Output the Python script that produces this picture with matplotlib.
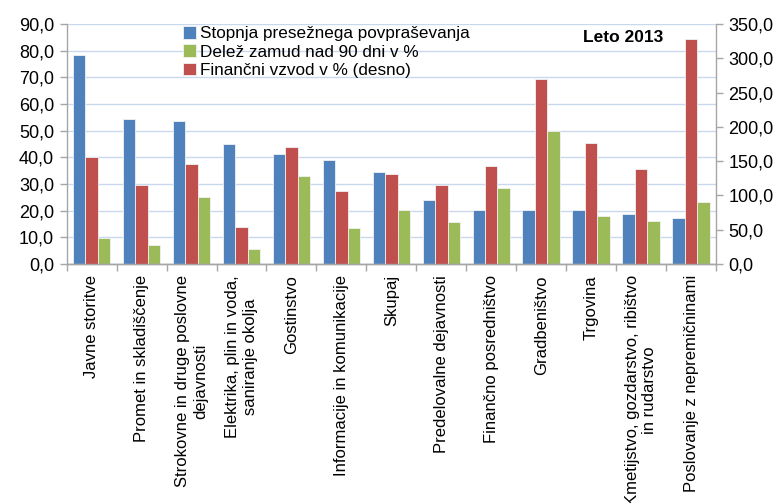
import matplotlib
matplotlib.use("Agg")
import matplotlib.pyplot as plt
import numpy as np
from matplotlib.ticker import FuncFormatter, FixedLocator, MultipleLocator

plt.rcParams['font.family'] = ['Liberation Sans', 'DejaVu Sans']

categories = [
    "Javne storitve",
    "Promet in skladiščenje",
    "Strokovne in druge poslovne\ndejavnosti",
    "Elektrika, plin in voda,\nsaniranje okolja",
    "Gostinstvo",
    "Informacije in komunikacije",
    "Skupaj",
    "Predelovalne dejavnosti",
    "Finančno posredništvo",
    "Gradbeništvo",
    "Trgovina",
    "Kmetijstvo, gozdarstvo, ribištvo\nin rudarstvo",
    "Poslovanje z nepremičninami",
]

presezno_povprasevanje = [78.4, 54.5, 53.6, 44.9, 41.1, 39.0, 34.4, 24.0, 20.4, 20.4, 20.1, 18.9, 17.1]
financni_vzvod = [156.0, 115.2, 145.8, 54.0, 171.0, 106.0, 131.7, 115.2, 143.4, 269.8, 177.0, 138.5, 328.0]
delez_zamud = [9.6, 7.0, 25.2, 5.5, 33.0, 13.5, 20.4, 15.9, 28.5, 50.0, 18.0, 16.1, 23.4]

series_labels = [
    "Stopnja presežnega povpraševanja",
    "Delež zamud nad 90 dni v %",
    "Finančni vzvod v % (desno)",
]

blue = "#4F81BD"
red = "#C0504D"
green = "#9BBB59"
grid_col = "#C9D8EC"
spine_col = "#A6A6A6"

fig = plt.figure(figsize=(7.81, 5.03), dpi=100)
ax = fig.add_axes([66.7 / 781, 1 - 264 / 503, (716 - 66.7) / 781, 240 / 503])
ax2 = ax.twinx()

x = np.arange(len(categories))
w = 0.25
edge = dict(edgecolor="#F2F2F2", linewidth=0.6)

b1 = ax.bar(x - w, presezno_povprasevanje, w, color=blue, **edge, zorder=2)
b3 = ax.bar(x + w, delez_zamud, w, color=green, **edge, zorder=2)
b2 = ax2.bar(x, financni_vzvod, w, color=red, **edge, zorder=2)

ax.set_xlim(-0.5, len(categories) - 0.5)
ax.set_ylim(0, 90)
ax2.set_ylim(0, 350)
ax.yaxis.set_major_locator(MultipleLocator(10))
ax2.yaxis.set_major_locator(MultipleLocator(50))

fmt = FuncFormatter(lambda v, p: f"{v:.1f}".replace(".", ","))
ax.yaxis.set_major_formatter(fmt)
ax2.yaxis.set_major_formatter(fmt)

ax.set_axisbelow(True)
ax.grid(axis="y", color=grid_col, linewidth=1.0, zorder=0)

for a in (ax, ax2):
    a.spines["top"].set_visible(False)
    for s in ("left", "right", "bottom"):
        a.spines[s].set_color(spine_col)
        a.spines[s].set_linewidth(1.0)
    a.tick_params(axis="y", colors=spine_col, labelcolor="black", labelsize=13,
                  length=5, width=1.0, direction="out", pad=4)

ax.spines["right"].set_visible(False)
ax2.spines["left"].set_visible(False)

# category labels at group centres, tick marks at group boundaries
ax.set_xticks(x)
ax.set_xticklabels(categories, rotation=90, fontsize=12.0, ha="center", va="top",
                   multialignment="center")
ax.tick_params(axis="x", which="major", length=0, pad=8)
ax.xaxis.set_minor_locator(FixedLocator(np.arange(-0.5, len(categories), 1.0)))
ax.tick_params(axis="x", which="minor", length=5, width=1.0, colors=spine_col,
               direction="out")
ax2.tick_params(axis="x", length=0)

handles = [b1, b3, b2]
fig.legend(handles, series_labels, loc="upper left",
           bbox_to_anchor=(183 / 781, 1 - 26 / 503), bbox_transform=fig.transFigure,
           frameon=False, fontsize=12.3, handlelength=0.75, handleheight=0.75,
           handletextpad=0.25, labelspacing=0.18, borderpad=0, borderaxespad=0)

fig.text(623 / 781, 1 - 38 / 503, "Leto 2013", fontsize=12.5, fontweight="bold",
         ha="center", va="center")

fig.savefig("out.png", dpi=100)
